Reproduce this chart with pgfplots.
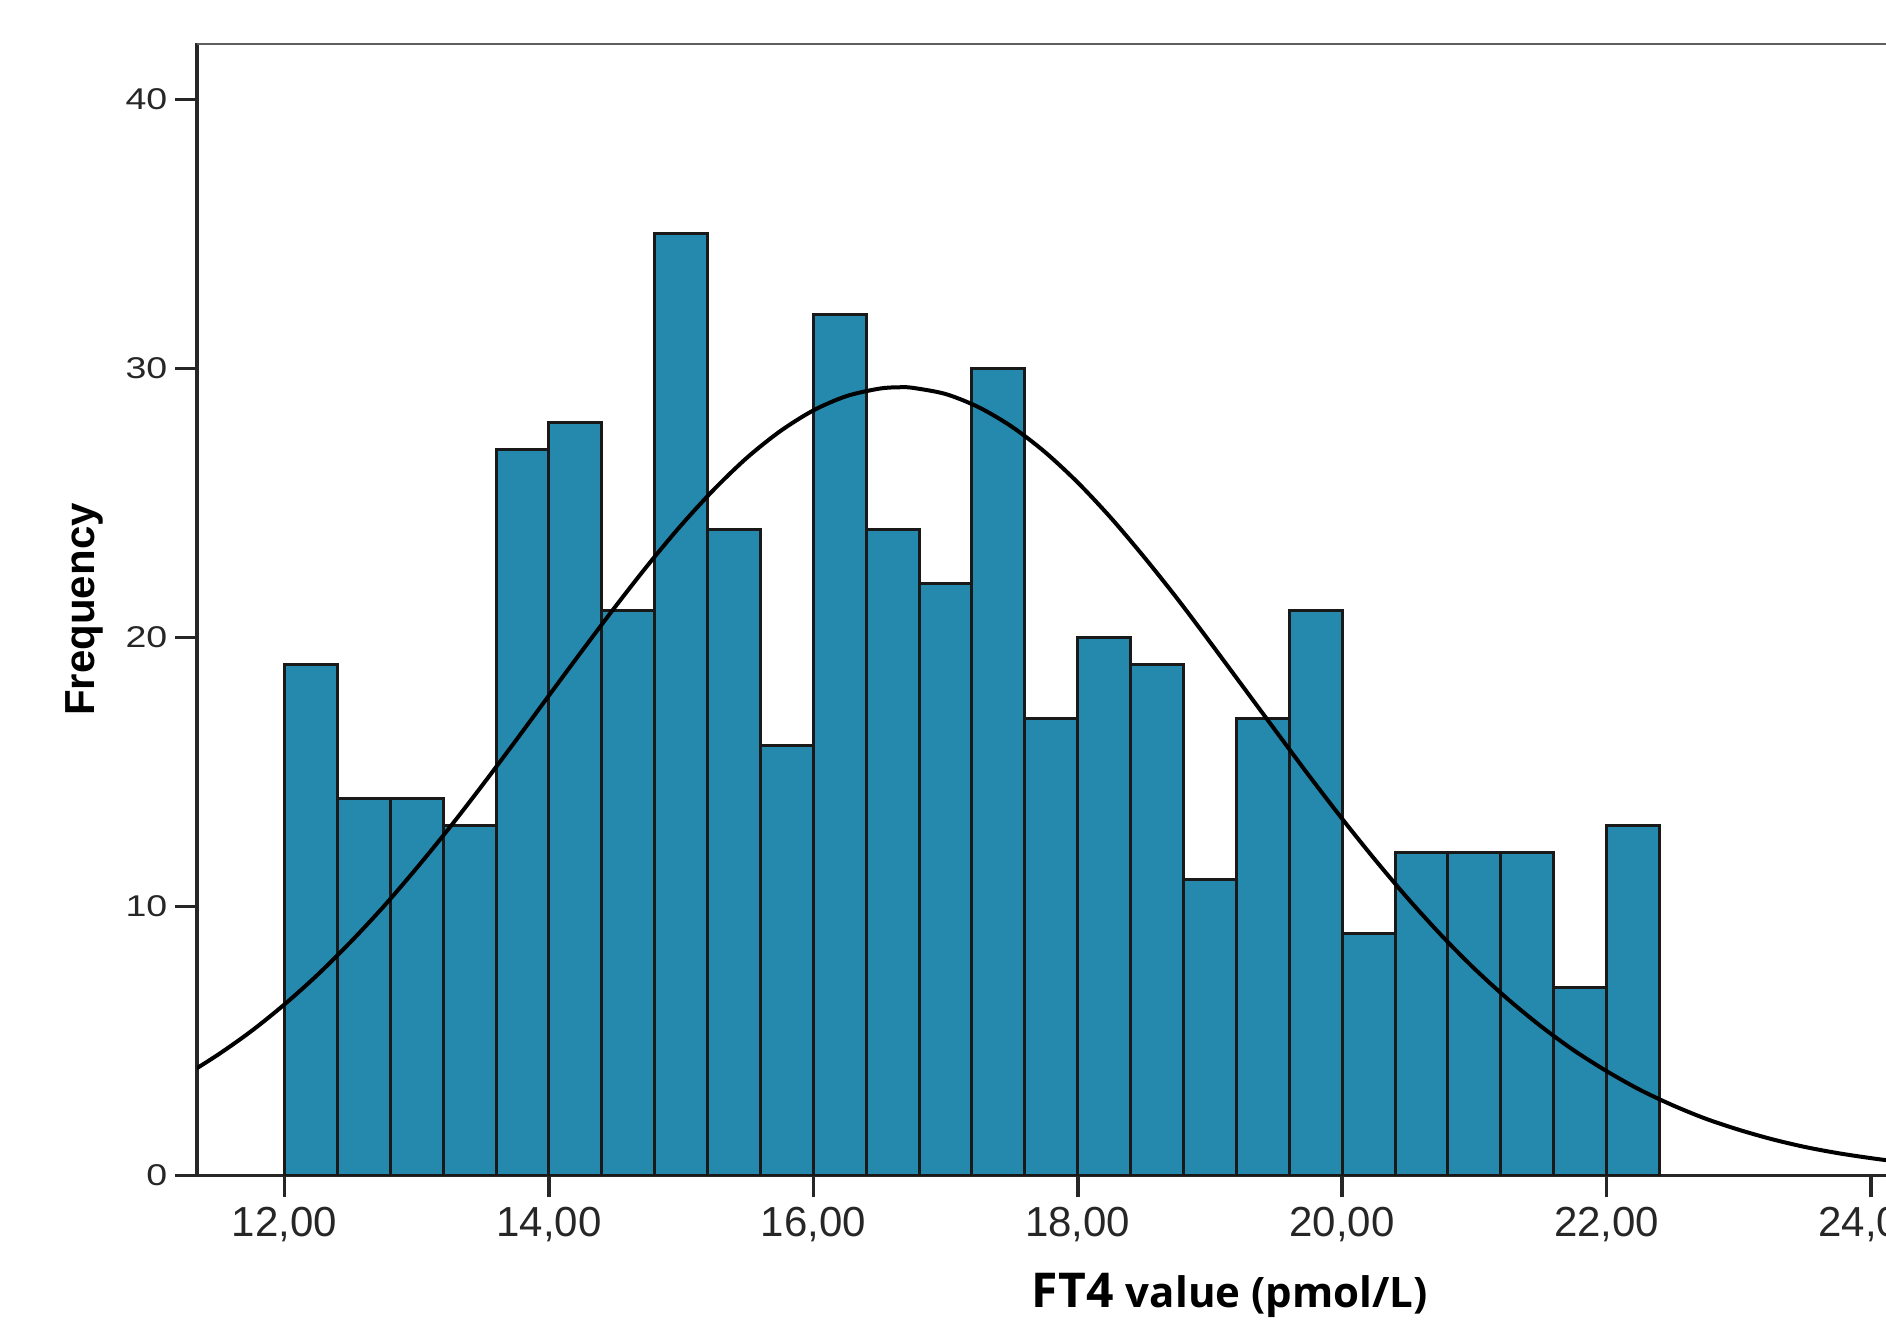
\documentclass[border=0pt]{standalone}
\usepackage{pgfplots}
\pgfplotsset{compat=1.18}
\usepackage{fontspec}
\setmainfont{Liberation Sans}
\newfontfamily\labfont{Open Sans}
\definecolor{barblue}{RGB}{37,137,173}
\definecolor{topgray}{RGB}{95,95,95}
\begin{document}
\begin{tikzpicture}
\begin{axis}[
  x=33.05pt, y=6.725pt,
  xmin=11.338, xmax=25, ymin=0, ymax=42.08,
  axis x line*=bottom, axis y line*=left,
  axis line style={-, draw=black!85, line width=0.9pt},
  tick style={draw=black!85, line width=0.9pt},
  tick align=outside,
  xtick={12,14,16,18,20,22,24},
  xticklabels={{12,00},{14,00},{16,00},{18,00},{20,00},{22,00},{24,00}},
  ytick={0,10,20,30,40},
  yticklabels={0,10,20,30,40},
  major tick length=5.5pt,
  xticklabel style={font=\fontsize{10.5}{12}\selectfont, color=black!85, yshift=1pt},
  yticklabel style={font=\fontsize{7.5}{9}\selectfont, color=black!85, xscale=1.25, xshift=2pt},
  xlabel={\labfont\bfseries\fontsize{12}{14}\selectfont FT4 \fontsize{10.5}{12}\selectfont value (pmol/L)},
  xlabel style={at={(axis description cs:0.5718,-0.1057)}, anchor=center},
  ylabel={\bfseries\fontsize{10.5}{12}\selectfont Frequency},
  ylabel style={at={(axis description cs:-0.0626,0.5)}, anchor=center},
  clip=true,
]
\addplot[ybar interval, fill=barblue, draw=black!90, line width=0.75pt] coordinates {
(12.0,19) (12.4,14) (12.8,14) (13.2,13) (13.6,27) (14.0,28) (14.4,21) (14.8,35)
(15.2,24) (15.6,16) (16.0,32) (16.4,24) (16.8,22) (17.2,30) (17.6,17) (18.0,20)
(18.4,19) (18.8,11) (19.2,17) (19.6,21) (20.0,9) (20.4,12) (20.8,12) (21.2,12)
(21.6,7) (22.0,13) (22.4,13)
};
\addplot[smooth, black, line width=1pt] coordinates {
(11.0,3.07) (11.25,3.73) (11.5,4.50) (11.75,5.37) (12.0,6.36) (12.25,7.46)
(12.5,8.68) (12.75,10.00) (13.0,11.43) (13.25,12.94) (13.5,14.53) (13.75,16.17)
(14.0,17.84) (14.25,19.50) (14.5,21.13) (14.75,22.70) (15.0,24.17) (15.25,25.51)
(15.5,26.69) (15.75,27.67) (16.0,28.44) (16.25,28.97) (16.5,29.25) (16.65,29.30)
(16.75,29.28) (17.0,29.05) (17.25,28.56) (17.5,27.84) (17.75,26.90) (18.0,25.76)
(18.25,24.45) (18.5,23.00) (18.75,21.46) (19.0,19.83) (19.25,18.17) (19.5,16.51)
(19.75,14.86) (20.0,13.26) (20.25,11.73) (20.5,10.28) (20.75,8.93) (21.0,7.69)
(21.25,6.57) (21.5,5.56) (21.75,4.66) (22.0,3.88) (22.25,3.19) (22.5,2.61)
(22.75,2.11) (23.0,1.70) (23.25,1.35) (23.5,1.06) (23.75,0.83) (24.0,0.644)
(24.25,0.49) (24.5,0.376)
};
\draw[topgray, line width=0.9pt] (rel axis cs:0,1) -- (rel axis cs:1,1);
\coordinate (tl) at (rel axis cs:0,1);
\coordinate (br) at (axis cs:24.114,0);
\end{axis}
\pgfresetboundingbox
\path[use as bounding box] ([xshift=-49.25pt,yshift=10.875pt]tl) rectangle ([yshift=-37.125pt]br);
\end{tikzpicture}
\end{document}
